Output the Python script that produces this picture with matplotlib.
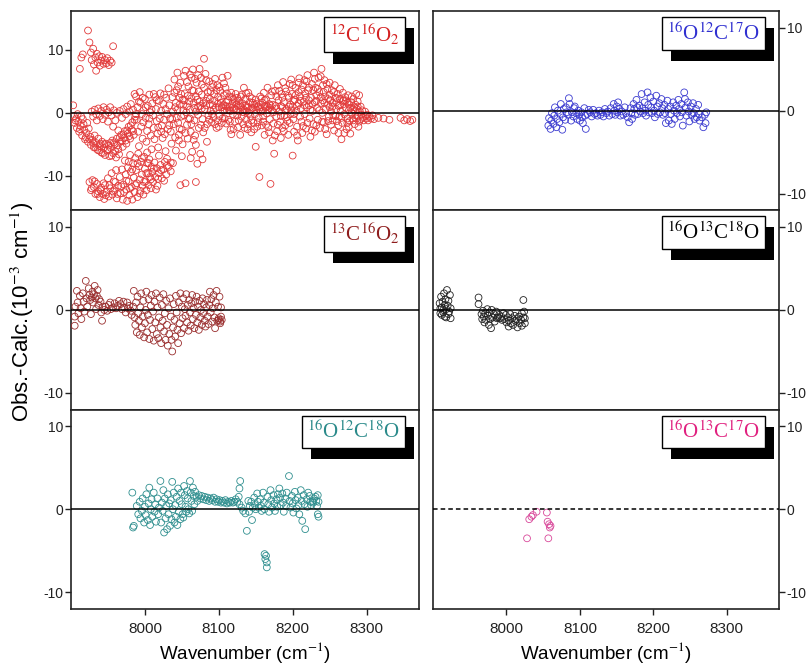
import matplotlib
matplotlib.use("Agg")
import matplotlib.pyplot as plt
import matplotlib.patheffects as pe

plt.rcParams['font.family'] = ['Liberation Sans', 'DejaVu Sans']
plt.rcParams['axes.unicode_minus'] = False
plt.rcParams['mathtext.fontset'] = 'stix'

# ---------------- data: (wavenumber cm-1, obs-calc 1e-3 cm-1) ----------------
c626_cluster = [(7912, 7.0), (7914, 8.8), (7916, 9.3), (7923, 13.1), (7925, 11.2), (7927, 9.6),
                (7928, 8.4), (7930, 10.2), (7931, 7.7), (7933, 8.8), (7934, 6.7), (7936, 8.0),
                (7938, 9.0), (7939, 7.5), (7941, 8.3), (7942, 8.9), (7944, 7.8), (7946, 8.4),
                (7948, 7.9), (7949, 8.7), (7951, 7.6), (7953, 8.3), (7955, 8.0), (7957, 10.6),
                (7935, 9.4)]
c626_loop = [(7903, 1.2), (7904, -0.5), (7905, -1.6), (7907, -0.9), (7908, -2.4), (7910, -1.4),
             (7911, -3.0), (7913, -2.1), (7915, -3.6), (7916, -1.0), (7918, -2.7), (7919, -4.2),
             (7921, -3.2), (7923, -4.6), (7924, -2.5), (7926, -3.8), (7927, -5.1), (7929, -4.3),
             (7931, -5.5), (7932, -3.6), (7934, -4.8), (7936, -5.9), (7937, -4.1), (7939, -5.3),
             (7941, -6.3), (7942, -4.6), (7944, -5.6), (7946, -6.7), (7947, -4.9), (7949, -6.0),
             (7951, -5.2), (7952, -6.9), (7954, -5.6), (7956, -4.4), (7957, -6.4), (7959, -5.0),
             (7961, -7.1), (7962, -4.1), (7964, -5.8), (7965, -6.6), (7967, -4.6), (7968, -3.5),
             (7970, -5.4), (7972, -4.0), (7973, -2.9), (7975, -4.9), (7977, -3.3), (7978, -2.2),
             (7980, -4.1), (7982, -2.7), (7983, -1.5), (7985, -3.5), (7987, -0.6),
             (7928, 0.2), (7930, -0.6), (7932, 0.5), (7934, -0.2), (7935, -1.2), (7937, 0.7),
             (7939, -0.5), (7941, 0.3), (7943, -1.0), (7944, 0.9), (7946, -0.3), (7948, 0.5),
             (7950, -1.4), (7951, 0.1), (7953, 0.9), (7955, -0.4), (7957, -2.2), (7958, 0.4),
             (7960, -1.2), (7962, 0.0), (7964, -2.8), (7966, 0.3), (7969, -0.8), (7971, 0.6),
             (7974, -0.2), (7976, 1.0), (7979, 0.2), (7981, 1.4), (7984, 0.5), (7986, 3.0),
             (7906, -1.2), (7909, -0.2), (7912, -2.6), (7914, -0.6), (7917, -1.8), (7920, -3.9),
             (7922, -1.6), (7925, -4.2), (7930, -4.8), (7933, -5.5), (7938, -6.0), (7940, -4.9),
             (7943, -6.4), (7945, -5.0), (7950, -5.8), (7953, -4.8), (7955, -6.8), (7958, -4.7),
             (7960, -6.1), (7963, -5.2), (7966, -3.9), (7969, -4.5), (7971, -3.4), (7974, -4.4),
             (7976, -2.8), (7979, -3.7), (7981, -2.0), (7984, -2.9), (7986, -1.1), (7988, -0.2)]
c626_low = [(7925, -11.0), (7927, -12.3), (7929, -10.7), (7931, -11.8), (7933, -12.9), (7935, -11.3),
            (7937, -12.5), (7939, -13.4), (7941, -11.9), (7943, -12.9), (7945, -13.7), (7946, -11.5),
            (7948, -12.6), (7950, -10.4), (7951, -13.3), (7953, -12.0), (7955, -9.6), (7956, -13.0),
            (7958, -10.9), (7959, -12.3), (7961, -9.1), (7962, -13.6), (7964, -11.6), (7966, -10.2),
            (7967, -12.8), (7969, -9.0), (7970, -13.8), (7971, -11.4),
            (7973, -7.6), (7974, -9.8), (7975, -12.2), (7976, -14.0), (7977, -8.7), (7978, -10.9),
            (7979, -13.1), (7980, -6.7), (7981, -9.4), (7982, -11.8), (7983, -13.8), (7984, -8.0),
            (7985, -10.3), (7986, -12.6), (7987, -7.2), (7988, -9.1), (7989, -11.2), (7990, -13.4),
            (7991, -6.5), (7992, -8.5), (7993, -10.6), (7994, -12.4), (7995, -7.8), (7996, -9.8),
            (7997, -11.6), (7998, -13.0), (7999, -7.0), (8000, -8.9), (8001, -10.9), (8002, -12.3),
            (8003, -8.0), (8004, -9.6), (8005, -11.5), (8006, -7.4), (8007, -10.2), (8008, -12.0),
            (8009, -8.6), (8010, -9.4), (8011, -11.0), (8013, -7.9), (8014, -10.2), (8016, -8.8),
            (8017, -11.6), (8019, -9.6), (8021, -8.3), (8023, -10.4), (8025, -9.0), (8027, -7.8),
            (8029, -9.8), (8032, -8.6), (8035, -9.3), (8038, -8.0), (8048, -11.5), (8055, -11.2),
            (8069, -11.0),
            (7928, -12.0), (7932, -10.9), (7936, -12.9), (7940, -12.3), (7944, -11.2), (7947, -13.1),
            (7952, -11.5), (7957, -12.5), (7960, -11.0), (7963, -12.9), (7968, -11.7), (7972, -12.6),
            (7975, -10.8), (7978, -7.8), (7980, -12.0), (7983, -9.0), (7987, -11.5), (7990, -8.0),
            (7993, -12.8), (7996, -7.2), (7999, -11.0), (8002, -9.6), (8005, -8.0), (8008, -10.6),
            (8012, -8.9), (8015, -12.2), (8018, -10.5), (8022, -9.1), (8026, -10.8), (8030, -8.4)]
c626_main = [(7988, 2.6), (7990, 0.9), (7989, -1.1), (7991, -3.0), (7993, 3.3), (7994, 1.6),
             (7996, -0.2), (7995, -2.2), (7997, -4.1), (7992, -5.3), (7998, 0.4), (7998, -1.5),
             (8000, 2.2), (8001, -0.8), (8003, -2.9), (8002, -4.6), (8004, 1.1), (8005, -1.8),
             (8006, 2.9), (8007, 0.1), (8008, -3.6), (8009, -5.8), (8003, -6.3),
             (8010, 1.5), (8011, -0.4), (8012, -2.4), (8013, -4.2), (8014, 2.5), (8015, 0.6),
             (8016, -1.3), (8017, -3.3), (8018, -5.5), (8019, 1.9), (8020, -0.9), (8019, -6.8),
             (8021, 3.1), (8022, 0.3), (8023, -2.0), (8024, -4.0), (8025, 1.4), (8026, -1.1),
             (8027, -3.4), (8028, -6.1), (8029, 2.4), (8030, -0.2), (8031, -2.6), (8030, -7.3),
             (8032, 3.9), (8033, 1.2), (8034, -0.9), (8035, -3.0), (8036, -4.9), (8037, 2.5),
             (8038, 0.2), (8039, -1.8), (8040, 5.3), (8041, -3.9), (8042, 1.6), (8042, -6.0),
             (8035, -7.9),
             (8043, 3.6), (8044, 6.4), (8044, 0.5), (8045, -1.6), (8046, -3.5), (8047, 2.4),
             (8048, 4.8), (8049, -0.6), (8050, -2.7), (8051, -5.0), (8052, 1.3), (8053, 5.9),
             (8050, -6.9), (8046, -4.4),
             (8054, 3.1), (8055, 6.7), (8056, 0.1), (8057, -1.9), (8058, -4.1), (8059, 4.2),
             (8060, 1.8), (8061, -0.9), (8062, -3.0), (8063, 5.6), (8064, -6.2), (8058, 2.7),
             (8062, -7.2),
             (8065, 6.9), (8066, 3.5), (8067, 0.8), (8067, -1.2), (8068, -3.6), (8069, -5.1),
             (8070, 4.8), (8071, 2.1), (8072, -0.3), (8073, -2.4), (8074, 7.0), (8075, 1.1),
             (8071, -8.1), (8075, -6.5),
             (8076, 5.6), (8077, 2.9), (8078, -1.0), (8079, -3.1), (8080, 8.6), (8080, 4.0),
             (8081, 0.6), (8082, 6.2), (8083, 1.9), (8084, -1.8), (8085, 3.3), (8086, -0.4),
             (8078, -7.4), (8084, -4.6),
             (8087, 5.0), (8088, 2.2), (8089, 0.3), (8090, -1.5), (8091, 4.1), (8092, 1.2),
             (8093, -0.7), (8094, 3.0), (8095, 5.4), (8096, 0.8), (8097, -2.4), (8094, 1.9),
             (8098, 4.4), (8099, 2.5), (8100, 0.9), (8101, -0.5), (8102, 3.5), (8103, 1.6),
             (8104, -1.6), (8105, 5.6), (8106, 0.3), (8107, 2.8), (8108, -0.9), (8106, 1.2),
             (8100, -2.2),
             (8109, 4.0), (8110, 1.7), (8111, 0.4), (8112, 5.9), (8113, -1.1), (8114, 2.6),
             (8115, 0.9), (8116, -2.7), (8117, 3.2), (8118, 1.4), (8119, -0.2), (8117, -3.4),
             (8112, 1.0),
             (8120, 2.2), (8121, 0.6), (8122, -1.4), (8123, 3.0), (8124, 1.3), (8125, -0.4),
             (8126, -2.3), (8127, 1.9), (8128, 0.2), (8129, -3.5), (8130, 2.6), (8130, 0.9),
             (8124, 0.5),
             (8131, -0.6), (8132, 1.5), (8133, -1.8), (8134, 4.0), (8135, 0.4), (8136, 2.2),
             (8137, -1.1), (8138, 1.0), (8139, -2.6), (8140, 3.2), (8141, 0.0), (8139, 0.8),
             (8136, 1.2),
             (8142, 1.7), (8143, -0.5), (8144, -3.1), (8145, 2.3), (8146, 0.8), (8147, -1.6),
             (8148, 1.3), (8149, -0.2), (8150, -5.4), (8151, 0.5), (8152, -2.2), (8150, 2.1),
             (8153, 1.0), (8154, -0.8), (8155, -10.2), (8156, 2.6), (8157, 0.2), (8158, -2.0),
             (8159, 1.6), (8160, -0.5), (8161, 3.2), (8162, -3.5), (8163, 0.9), (8160, -1.4),
             (8164, 2.1), (8165, -0.1), (8166, 4.0), (8167, -2.3), (8168, 1.4), (8169, -1.0),
             (8170, -11.3), (8171, 2.8), (8172, 0.4), (8173, -4.4), (8174, -1.7), (8169, 0.8),
             (8175, -6.5),
             (8176, 3.5), (8177, 1.1), (8178, -0.6), (8179, -2.9), (8180, 4.4), (8181, 2.0),
             (8182, 0.2), (8183, -1.4), (8184, -4.0), (8185, 3.0), (8186, 0.9), (8186, -2.4),
             (8187, 4.9), (8188, 1.7), (8189, -0.4), (8190, -2.0), (8191, 3.4), (8192, 0.6),
             (8193, -1.3), (8194, -3.5), (8195, 2.4), (8196, 4.6), (8197, -0.2), (8197, 1.3),
             (8198, 5.3), (8199, 3.0), (8200, 1.0), (8200, -6.8), (8201, -1.0), (8202, -3.0),
             (8203, 2.1), (8204, 4.0), (8205, 0.3), (8206, -2.2), (8207, -4.4), (8208, 1.5),
             (8208, 3.3),
             (8209, 5.5), (8210, 2.6), (8211, 0.7), (8212, -1.4), (8213, -3.2), (8214, 4.4),
             (8215, 1.8), (8216, -0.2), (8217, 3.1), (8218, -2.5), (8219, 5.0), (8219, 0.9),
             (8220, 6.0), (8221, 3.6), (8222, 1.2), (8223, -0.9), (8224, -3.8), (8225, 2.4),
             (8226, 4.6), (8227, 0.3), (8228, -1.8), (8229, 6.4), (8230, 1.7), (8230, -3.0),
             (8231, 4.0), (8232, 2.8), (8233, 0.8), (8234, -1.1), (8235, 5.6), (8236, 3.3),
             (8237, -2.4), (8238, 1.5), (8239, 7.0), (8240, 0.0), (8241, 4.4), (8241, 2.0),
             (8242, -1.5), (8243, 5.2), (8244, 2.6), (8245, 0.6), (8246, -3.4), (8247, 3.8),
             (8248, 1.3), (8249, -0.6), (8250, 4.8), (8251, 2.0), (8252, -1.9), (8250, 0.9),
             (8253, 3.6), (8254, 1.6), (8255, -0.4), (8256, -2.8), (8257, 4.4), (8258, 2.4),
             (8259, 0.6), (8260, -1.3), (8261, 3.0), (8262, 1.1), (8263, -0.6), (8262, -3.2),
             (8264, 2.2), (8265, 0.3), (8266, -4.2), (8267, -1.6), (8268, 3.2), (8269, 1.4),
             (8270, -0.2), (8271, 2.5), (8272, 0.8), (8273, -2.6), (8274, 1.6), (8274, -0.9),
             (8275, 2.8), (8276, 0.4), (8277, -1.3), (8278, -3.3), (8279, 1.7), (8280, 0.0),
             (8281, -0.9), (8282, 2.2), (8283, 0.9), (8284, -1.8), (8285, 1.3), (8285, -0.4),
             (8286, 3.0), (8287, 0.6), (8288, -0.5), (8289, -2.2), (8290, 2.8), (8291, 0.2),
             (8292, -1.0), (8293, -0.3), (8294, 0.4), (8295, -0.8), (8296, -1.2),
             (8298, 0.2), (8299, -0.5), (8300, -0.9), (8301, -0.3), (8302, -1.2), (8304, -0.6),
             (8306, -0.9), (8308, -0.4), (8310, -1.0), (8316, -0.8), (8323, -0.9), (8331, -1.1),
             (8346, -0.8), (8351, -1.2), (8355, -1.0), (8359, -1.3), (8362, -1.1)]
c626_band = [(8041, 0.9), (8047, 1.3), (8052, 0.4), (8057, 1.0), (8061, 0.5), (8066, 1.6),
             (8072, 1.0), (8077, 0.7), (8083, 1.2), (8088, 1.4), (8093, 0.5), (8099, 1.5),
             (8104, 0.9), (8109, 1.1), (8114, 0.4), (8119, 0.9), (8126, 1.1), (8133, 0.6),
             (8138, 0.2), (8144, 0.6), (8149, 0.9), (8155, 0.6), (8162, 1.1), (8167, 0.5),
             (8173, 1.3), (8178, 0.7), (8184, 1.1), (8190, 0.4), (8195, 1.0), (8201, 1.9),
             (8206, 1.1), (8211, 1.9), (8216, 1.2), (8222, 2.0), (8227, 1.4), (8232, 1.9),
             (8238, 2.5), (8243, 1.6), (8248, 2.2), (8254, 1.0), (8259, 1.7), (8264, 1.2),
             (8269, 2.0), (8276, 1.3), (8282, 0.6), (8288, 1.0), (8053, 2.0), (8063, 2.3),
             (8069, 2.6), (8074, 1.8)]
c626_fill = [(7992, 1.8), (7997, 2.4), (8001, 0.9), (8006, -0.9), (8009, 0.5), (8012, 3.0),
             (8016, 2.0), (8018, -2.3), (8022, -3.0), (8026, 2.9), (8028, 0.6), (8033, -2.0),
             (8037, -1.0), (8040, 3.2), (8043, -0.8), (8045, 4.2), (8047, -2.5), (8049, 3.0),
             (8051, 2.1), (8053, -0.4), (8055, -3.2), (8057, 4.9), (8059, -1.0), (8061, 6.1),
             (8063, -1.8), (8064, 3.6), (8066, -4.3), (8068, 5.4), (8069, 0.2), (8072, 6.0),
             (8073, 3.4), (8076, -1.9), (8077, 4.5), (8079, 1.5), (8081, -2.4), (8083, 5.2),
             (8085, 2.5), (8087, -1.1), (8089, 3.4), (8091, -0.2), (8092, 4.6), (8095, -1.8),
             (8097, 3.6), (8099, -1.2), (8101, 4.1), (8103, 2.2), (8105, -0.9), (8107, 4.7),
             (8108, 0.4), (8110, -1.7), (8111, 3.1), (8113, 2.0), (8115, -1.4), (8116, 0.3),
             (8118, 2.5), (8120, -2.6), (8122, 1.7), (8125, 2.4), (8127, -1.2), (8129, 1.2),
             (8131, 2.9), (8133, 0.1), (8135, -2.4), (8137, 3.1), (8140, -1.8), (8142, 2.6),
             (8144, -1.2), (8146, 1.6), (8148, -2.6), (8151, 1.4), (8153, -1.5), (8156, 0.9),
             (8158, 2.3), (8160, 0.3), (8162, 2.0), (8164, -1.9), (8166, 1.0), (8168, -3.1),
             (8170, 1.2), (8172, 3.4), (8174, 0.1), (8176, -3.6), (8178, 2.6), (8180, -1.9),
             (8182, 3.5), (8184, -0.5), (8186, 2.4), (8188, -2.9), (8190, 3.9), (8192, -0.7),
             (8194, 2.7), (8196, -1.6), (8198, 0.4), (8200, 4.4), (8202, -0.2), (8204, 2.8),
             (8206, -3.6), (8208, 4.8), (8210, -0.6), (8212, 3.7), (8214, -2.1), (8216, 5.2),
             (8218, 2.4), (8220, -1.6), (8222, 4.0), (8224, 0.5), (8226, -2.8), (8228, 3.6),
             (8230, 5.4), (8232, -2.0), (8234, 3.8), (8236, 0.4), (8238, 5.8), (8240, -1.4),
             (8242, 3.3), (8244, -2.6), (8246, 4.6), (8248, -1.3), (8250, 2.9), (8252, 0.2),
             (8254, -1.2), (8256, 3.3), (8258, -0.5), (8260, 2.3), (8262, -2.0), (8264, 3.8),
             (8266, -0.8), (8268, 1.9), (8270, -3.2), (8272, 2.0), (8274, -1.6), (8276, -2.2),
             (8278, 0.8), (8280, 2.6), (8282, -1.2), (8284, 0.3), (8286, -0.9), (8288, 1.8),
             (8290, -1.4), (8292, 1.0)]

c636 = [(7905, -0.8), (7905, -1.9), (7906, 0.4), (7908, 2.3), (7909, 0.9), (7910, -0.4), (7912, 1.7),
        (7913, 0.2), (7914, -1.1), (7916, 2.0), (7917, 1.0), (7918, -0.2), (7920, 3.5), (7921, 1.4),
        (7922, 0.4), (7924, 2.6), (7925, 1.8), (7926, 1.2), (7927, -0.5), (7928, 1.5), (7929, 2.2),
        (7930, 0.9), (7931, 1.9), (7932, 2.9), (7933, 1.4), (7934, 0.1), (7935, 1.7), (7936, 2.4),
        (7937, 0.6), (7938, 1.3), (7940, 1.0), (7941, -0.3), (7942, -1.3), (7943, 0.4), (7945, 0.0),
        (7947, 0.4), (7949, -0.1), (7951, 0.6), (7953, 0.9), (7954, 0.1), (7957, 0.3), (7959, 0.8),
        (7961, 0.2), (7963, 0.5), (7965, 1.1), (7967, 0.7), (7969, 0.1), (7971, 1.0), (7972, 0.3),
        (7974, -0.3), (7976, 0.9), (7977, 0.2), (7979, 0.5), (7981, -0.1), (7982, -0.6), (7984, 0.4),
        (7985, 2.3), (7986, -0.9), (7987, -1.8), (7988, 0.9), (7989, -2.7), (7990, 1.6), (7991, -0.4),
        (7992, -1.3), (7993, -3.0), (7994, 0.3), (7995, 2.0), (7996, -2.1), (7997, -0.8), (7998, 1.1),
        (7999, -3.3), (8000, -1.6), (8001, 0.0), (8002, 2.2), (8003, -2.7), (8004, -0.6), (8005, 1.3),
        (8006, -3.5), (8007, -1.2), (8008, 0.5), (8009, 1.8), (8010, -2.3), (8011, -0.2), (8012, -3.7),
        (8013, 1.0), (8014, -1.5), (8015, 2.0), (8016, -2.9), (8017, 0.3), (8018, -3.4), (8019, -0.9),
        (8020, 1.5), (8021, -2.1), (8022, -4.0), (8023, 0.6), (8024, -1.3), (8025, 1.9), (8026, -2.6),
        (8027, -0.4), (8028, -3.6), (8029, 1.1), (8030, -1.8), (8031, -4.3), (8032, 0.2), (8033, -2.9),
        (8034, 1.4), (8035, -0.8), (8036, -3.6), (8037, -5.0), (8038, -2.1), (8039, 0.7), (8040, -1.2),
        (8041, -3.2), (8042, 1.7), (8043, -0.3), (8044, -2.4), (8045, -4.0), (8046, 0.9), (8047, -1.6),
        (8048, 2.0), (8049, -2.8), (8050, 0.4),
        (8051, -1.0), (8052, 1.4), (8053, -2.2), (8054, 0.1), (8055, -0.7), (8056, 1.9), (8057, -1.5),
        (8058, 0.6), (8059, -2.5), (8060, 1.2), (8061, -0.3), (8062, -1.9), (8063, 0.8), (8064, 1.8),
        (8065, -1.1), (8066, 0.2), (8067, -2.2), (8068, 1.0), (8069, -0.6), (8070, 1.6), (8071, -1.5),
        (8072, 0.4), (8073, -2.4), (8074, 1.1), (8075, -0.9), (8076, 0.0), (8077, -1.8), (8078, 1.4),
        (8079, -0.4), (8080, 0.7), (8081, -1.3), (8082, -2.0), (8083, 0.3), (8084, 1.2), (8085, -0.8),
        (8086, -1.7), (8087, 0.6), (8088, 2.2), (8089, -0.3), (8090, 1.3), (8091, -1.4), (8092, 0.2),
        (8093, 1.8), (8094, -0.9), (8095, -2.2), (8096, 0.9), (8097, 2.3), (8098, -1.3), (8099, 0.4),
        (8100, -1.0), (8101, 1.6), (8102, -1.4), (8103, -0.8), (8104, -1.2), (8102, -1.6),
        (8100, -1.2), (8103, 0.3)]

c628 = [(7983, 2.0), (7984, -2.2), (7985, -2.0), (7989, 0.4), (7991, -0.6), (7993, 0.9), (7994, -1.1),
        (7996, -0.2), (7997, 1.3), (7999, -1.6), (8000, 0.3), (8001, -0.7), (8002, 1.8), (8004, -1.3),
        (8005, 0.7), (8006, 2.6), (8007, -1.9), (8008, 0.0), (8009, 1.2), (8010, -0.9), (8012, 2.0),
        (8013, -0.3), (8014, 0.6), (8015, -1.5), (8017, 1.3), (8018, -0.6), (8019, 0.2), (8021, 3.4),
        (8022, -1.6), (8023, 0.8), (8024, -0.2), (8025, 2.3), (8026, -2.8), (8027, 1.3), (8028, -1.1),
        (8029, 0.4), (8030, -2.4), (8031, 1.8), (8032, -0.6), (8033, 0.7), (8034, -2.0), (8035, 1.1),
        (8036, -1.2), (8037, 3.3), (8038, 0.0), (8039, 2.0), (8040, -1.6), (8041, 0.5), (8042, -0.9),
        (8043, 1.5), (8044, -1.9), (8045, 2.5), (8046, -0.3), (8047, 1.0), (8048, -1.2), (8049, 2.0),
        (8050, 0.6), (8051, -0.6), (8052, -1.0), (8053, 2.8), (8054, 1.7), (8055, 0.3), (8056, -0.3),
        (8057, 2.2), (8058, 1.3), (8059, 0.0), (8060, -0.5), (8061, 3.4), (8062, 2.0), (8063, 1.0),
        (8064, -0.2), (8065, 2.6), (8066, 1.6), (8067, 0.6), (8068, 2.1), (8070, 1.5), (8071, 1.0),
        (8073, 1.7), (8075, 1.3), (8077, 1.6), (8079, 1.2), (8081, 1.5), (8083, 1.1), (8085, 1.4),
        (8087, 1.0), (8089, 1.3), (8091, 1.1), (8093, 1.4), (8095, 0.9), (8097, 1.2), (8099, 0.9),
        (8101, 1.1), (8103, 0.8), (8105, 1.0), (8107, 0.8), (8109, 1.1), (8111, 0.7), (8113, 0.9),
        (8115, 0.8), (8117, 1.0), (8119, 0.8), (8121, 0.9), (8123, 1.2), (8125, 0.9), (8127, 1.5),
        (8128, 2.5), (8129, 3.4), (8128, 0.6), (8131, 0.2), (8133, -0.2), (8136, -0.5), (8138, -2.6),
        (8140, 1.0), (8141, -0.3), (8142, 0.4), (8144, 0.9), (8145, -1.3), (8146, 0.2), (8148, 1.4),
        (8149, 0.5), (8150, 0.0), (8152, 1.9), (8153, 0.9), (8154, 0.2), (8156, 1.2), (8157, 0.4),
        (8158, -0.2), (8160, 2.0), (8161, 0.8), (8162, -5.4), (8162, 0.0), (8163, -6.0), (8164, -5.6),
        (8165, -6.4), (8165, -7.0), (8166, 1.5), (8167, 0.6), (8168, -0.3), (8170, 2.3), (8171, 1.1),
        (8172, 0.2), (8174, 1.7), (8175, 0.7), (8176, -0.2), (8178, 1.2), (8179, 0.3), (8180, 1.8),
        (8182, 2.5), (8183, 1.4), (8184, 0.5), (8186, 1.9), (8187, 0.8), (8188, -0.3), (8190, 1.3),
        (8191, 0.4), (8192, 2.0), (8195, 4.0), (8196, 1.0), (8197, 0.2), (8199, 1.6), (8200, 0.7),
        (8201, -0.4), (8203, 2.1), (8204, 1.1), (8205, 0.1), (8207, 1.4), (8208, 0.5), (8209, -0.6),
        (8211, 2.3), (8212, 1.0), (8213, -1.4), (8215, 1.7), (8216, 0.6), (8217, -2.4), (8219, 1.2),
        (8220, 0.3), (8221, 2.0), (8223, 1.6), (8224, 0.9), (8225, 0.5), (8227, 1.0), (8228, 0.8),
        (8229, 1.3), (8231, 1.5), (8232, 1.0), (8233, 0.4), (8234, 1.7), (8235, 0.9), (8235, -0.9),
        (8234, -0.6)]

c627 = [(8057, -1.8), (8058, -0.9), (8060, -2.2), (8061, -1.2), (8062, -0.3), (8064, -1.6), (8065, -0.6),
        (8066, 0.4), (8068, -2.0), (8069, -1.0), (8070, 0.0), (8072, -1.4), (8073, -0.4), (8074, 0.8),
        (8076, -2.3), (8077, -0.8), (8078, 0.2), (8080, -1.1), (8081, 0.4), (8082, -0.2), (8084, -0.5),
        (8085, 1.5), (8086, 0.8), (8088, -1.2), (8089, -0.2), (8091, -0.7), (8092, 0.3), (8093, 0.5),
        (8095, -0.3), (8096, -1.0), (8098, 0.0), (8099, -0.5), (8100, -1.2), (8102, -0.2), (8103, -0.8),
        (8104, -1.5), (8106, 0.3), (8107, -0.6), (8108, -2.2), (8110, -0.4), (8112, 0.1), (8114, -0.2),
        (8116, -0.7), (8118, 0.1), (8120, -0.4), (8122, -0.3), (8124, -0.6), (8126, 0.0), (8128, -0.5),
        (8130, -0.2), (8132, -0.7), (8134, 0.2), (8136, -0.3), (8138, -0.1), (8140, -0.6), (8142, 0.3),
        (8144, -0.4), (8146, 0.8), (8147, 0.0), (8148, -0.5), (8150, 0.5), (8151, -0.2), (8152, 1.0),
        (8154, 0.2), (8155, -0.6), (8157, -0.1), (8159, -0.5), (8161, 0.4), (8163, -0.3), (8165, -0.8),
        (8167, -1.4), (8169, 0.3), (8170, -0.3), (8171, -1.0), (8173, 0.8), (8174, 0.2), (8175, -0.5),
        (8177, 1.3), (8178, 0.4), (8179, -0.4), (8181, 0.6), (8182, -0.1), (8184, 2.0), (8185, 0.3),
        (8186, -0.3), (8188, 1.0), (8189, 0.0), (8190, -0.6), (8192, 2.2), (8193, 0.7), (8194, -0.2),
        (8196, 1.6), (8197, 0.4), (8198, -0.3), (8200, 1.1), (8201, 0.0), (8202, -0.8), (8204, 1.8),
        (8205, 0.5), (8206, -0.4), (8208, 0.9), (8209, -0.2), (8211, 1.4), (8212, 0.3), (8213, -0.5),
        (8215, 0.7), (8216, -0.3), (8217, -1.5), (8219, 1.2), (8220, 0.2), (8221, -1.2), (8223, 0.5),
        (8224, -0.4), (8225, -1.6), (8227, 1.0), (8228, 0.0), (8229, -1.0), (8231, 0.6), (8232, -0.3),
        (8234, 1.3), (8235, 0.2), (8236, -0.7), (8238, 0.8), (8239, -0.2), (8240, -1.8), (8242, 2.2),
        (8243, 1.4), (8244, 0.4), (8245, -0.6), (8247, 1.0), (8248, -0.1), (8249, -1.3), (8251, 0.5),
        (8252, -0.5), (8254, 0.9), (8255, -0.3), (8256, -1.0), (8258, 0.2), (8259, -0.8), (8261, 0.7),
        (8262, -0.4), (8263, -1.2), (8266, -0.8), (8268, -2.0), (8270, -0.5), (8271, -1.5),
        (8272, -0.2)]

c638 = [(7909, 0.8), (7910, -0.4), (7910, 0.2), (7911, 1.6), (7912, 0.3), (7912, -0.6), (7913, 1.0),
        (7914, 0.0), (7914, -0.3), (7915, 2.0), (7916, 0.6), (7916, -0.8), (7917, 1.3), (7918, 0.1),
        (7918, -0.9), (7919, 2.4), (7920, 0.5), (7921, -0.5), (7921, 1.1), (7922, -0.2), (7923, 1.8),
        (7924, 0.2), (7924, -1.0), (7962, 1.5), (7962, 0.7), (7966, -0.5), (7967, -1.1), (7968, -0.1),
        (7969, -0.8), (7970, -1.5), (7971, -0.4), (7972, -1.2), (7974, 0.1), (7975, -0.7), (7976, -1.8),
        (7977, -0.3), (7978, -1.1), (7979, -2.2), (7980, 0.0), (7981, -0.9), (7983, -0.5), (7984, -1.4),
        (7986, -0.2), (7987, -1.0), (7988, -0.9), (7990, -0.6), (7991, -1.0), (7993, -0.8), (7994, -1.2),
        (7996, -0.4), (7997, -1.1), (7999, -0.6), (8000, -1.5), (8002, -0.9), (8003, -1.3), (8003, -2.0),
        (8005, -0.5), (8006, -1.6), (8008, -1.0), (8009, -1.8), (8011, -0.7), (8012, -1.3), (8014, -1.1),
        (8015, -2.1), (8017, -0.8), (8018, -1.6), (8020, -1.2), (8021, -1.9), (8021, -0.4), (8023, 1.2),
        (8023, -0.9), (8024, -0.2), (8025, -1.0), (8025, -1.6)]

c637 = [(8028, -3.5), (8031, -1.2), (8034, -0.9), (8036, -0.7), (8041, -0.3), (8055, -0.4),
        (8056, -1.5), (8057, -3.5), (8058, -1.8), (8059, -2.2), (8060, -2.0)]

labels = {
    '626': r'$^{12}$C$^{16}$O$_2$',
    '636': r'$^{13}$C$^{16}$O$_2$',
    '628': r'$^{16}$O$^{12}$C$^{18}$O',
    '627': r'$^{16}$O$^{12}$C$^{17}$O',
    '638': r'$^{16}$O$^{13}$C$^{18}$O',
    '637': r'$^{16}$O$^{13}$C$^{17}$O',
}
xticks = [8000, 8100, 8200, 8300]
yticks = [-10, 0, 10]
xlabel = r'Wavenumber (cm$^{-1}$)'
ylabel = r'Obs.-Calc.(10$^{-3}$ cm$^{-1}$)'


def unzip(*lists):
    xs, ys = [], []
    for lst in lists:
        for a, b in lst:
            xs.append(a)
            ys.append(b)
    return xs, ys


panels = [
    (0, 0, unzip(c626_cluster, c626_loop, c626_low, c626_main, c626_band, c626_fill), '#e23a3a',
     '#d42020', labels['626'], (-15.5, 16.2), '-'),
    (1, 0, unzip(c636), '#9a2e2e', '#8e1c1c', labels['636'], (-12, 12), '-'),
    (2, 0, unzip(c628), '#2f8f8f', '#2a8a8a', labels['628'], (-12, 12), '-'),
    (0, 1, unzip(c627), '#3b3bd0', '#2f2fd0', labels['627'], (-12, 12), '-'),
    (1, 1, unzip(c638), '#222222', '#000000', labels['638'], (-12, 12), '-'),
    (2, 1, unzip(c637), '#d9489a', '#e0207f', labels['637'], (-12, 12), (0, (3, 2))),
]

W, H = 807, 668
fig = plt.figure(figsize=(W / 100, H / 100), dpi=100)
col_left = [71 / W, 433 / W]
col_w = [348 / W, 346 / W]
top = 11
row_h = 199.3

for row, col, (xs, ys), color, tcolor, lab, ylim, zls in panels:
    bottom = 1 - (top + (row + 1) * row_h) / H
    ax = fig.add_axes([col_left[col], bottom, col_w[col], row_h / H])
    ax.scatter(xs, ys, s=24, facecolors='none', edgecolors=color, linewidths=0.6, zorder=3)
    ax.axhline(0, color='black', lw=1.1, ls=zls, zorder=4)
    ax.set_xlim(7900, 8371)
    ax.set_ylim(*ylim)
    ax.set_yticks(yticks)
    ax.set_xticks(xticks)
    for s in ax.spines.values():
        s.set_linewidth(1.2)
        s.set_color('#222222')
    ax.tick_params(direction='out', length=4.5, width=1, colors='#222222')
    ax.tick_params(axis='y', labelsize=10)
    ax.tick_params(axis='x', labelsize=11)
    if col == 0:
        ax.tick_params(axis='y', left=True, labelleft=True, right=False, labelright=False, pad=1)
    else:
        ax.tick_params(axis='y', left=False, labelleft=False, right=True, labelright=True, pad=1)
    if row < 2:
        ax.tick_params(axis='x', bottom=False, labelbottom=False)
    else:
        ax.tick_params(axis='x', pad=5)
        ax.set_xlabel(xlabel, fontsize=13.5, labelpad=3)
    t = ax.annotate(lab, xy=(1, 1), xycoords='axes fraction', xytext=(-14, -8),
                    textcoords='offset points', ha='right', va='top', fontsize=15,
                    color=tcolor, family=['Liberation Serif', 'DejaVu Serif'],
                    bbox=dict(boxstyle='square,pad=0.25', fc='white', ec='black', lw=1.0),
                    zorder=10)
    t.get_bbox_patch().set_path_effects([
        pe.SimplePatchShadow(offset=(6.5, -8), shadow_rgbFace='black', alpha=1.0),
        pe.Normal()])

fig.text(22 / W, 1 - 312 / H, ylabel, rotation=90, ha='center', va='center', fontsize=16)

fig.savefig('out.png', dpi=100)
